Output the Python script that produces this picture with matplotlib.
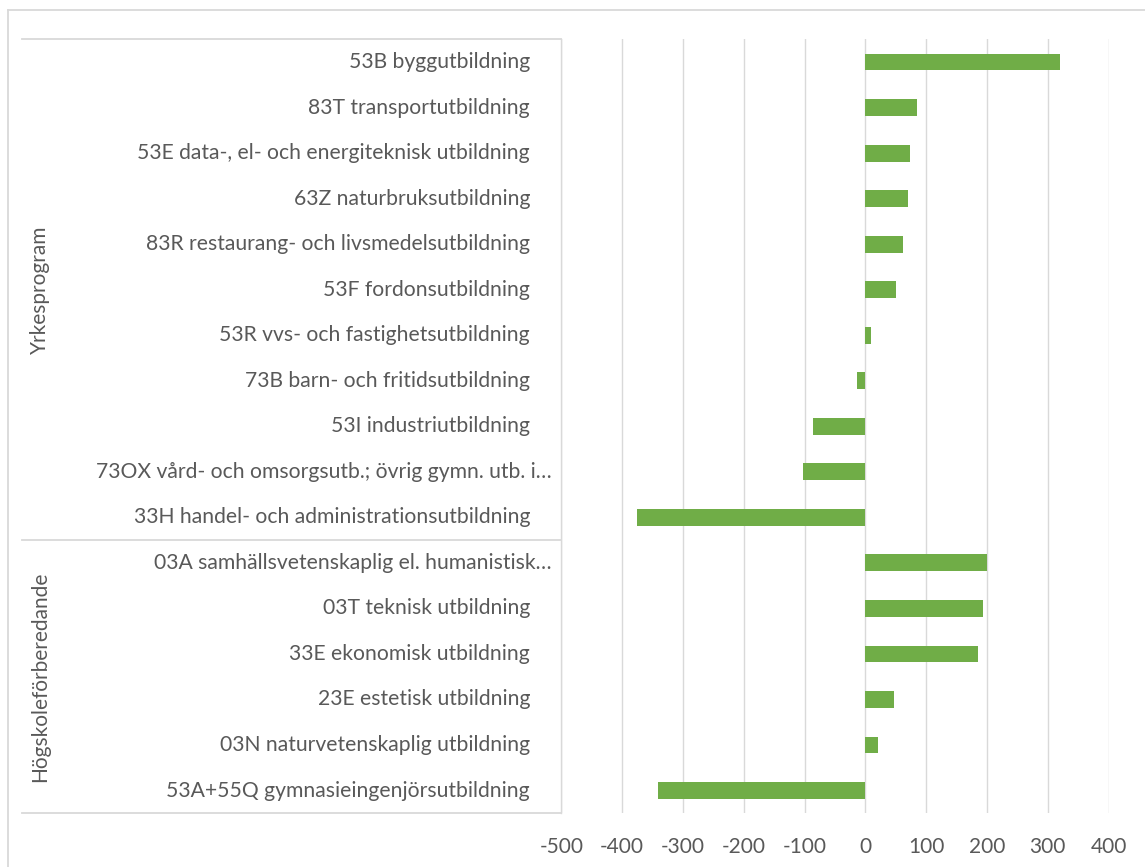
import matplotlib
matplotlib.use("Agg")
from matplotlib import pyplot as plt
from matplotlib import transforms
import numpy as np

# Category labels, top to bottom
yrke_labels = [
    "53B byggutbildning",
    "83T transportutbildning",
    "53E data-, el- och energiteknisk utbildning",
    "63Z naturbruksutbildning",
    "83R restaurang- och livsmedelsutbildning",
    "53F fordonsutbildning",
    "53R vvs- och fastighetsutbildning",
    "73B barn- och fritidsutbildning",
    "53I industriutbildning",
    "73OX vård- och omsorgsutb.; övrig gymn. utb. i…",
    "33H handel- och administrationsutbildning",
]
yrke_values = [320, 85, 74, 71, 62, 51, 9, -13, -86, -103, -375]

hogsk_labels = [
    "03A samhällsvetenskaplig el. humanistisk…",
    "03T teknisk utbildning",
    "33E ekonomisk utbildning",
    "23E estetisk utbildning",
    "03N naturvetenskaplig utbildning",
    "53A+55Q gymnasieingenjörsutbildning",
]
hogsk_values = [200, 193, 185, 48, 21, -341]

group_names = ["Yrkesprogram", "Högskoleförberedande"]
x_ticks = [-500, -400, -300, -200, -100, 0, 100, 200, 300, 400]

labels = yrke_labels + hogsk_labels
values = yrke_values + hogsk_values
n = len(labels)

plt.rcParams['font.family'] = ['Lato', 'DejaVu Sans']
text_color = '#595959'
line_color = '#D9D9D9'
bar_color = '#70AD47'
fsize = 15.2

W, H = 1145, 867
fig = plt.figure(figsize=(W / 100, H / 100), dpi=100)


def fx(px):
    return px / W


def fy(py):
    return 1 - py / H


ax_left, ax_right, ax_top, ax_bottom = 561.3, 1108.5, 39.3, 813.3
ax = fig.add_axes([fx(ax_left), fy(ax_bottom), fx(ax_right - ax_left),
                   (ax_bottom - ax_top) / H])

y = np.arange(n)
ax.barh(y, values, height=0.37, color=bar_color, zorder=3)
ax.set_xlim(-500, 400)
ax.set_ylim(n - 0.5, -0.5)

# gridlines
ax.set_xticks(x_ticks)
ax.set_xticklabels([str(v) for v in x_ticks], color=text_color, fontsize=15)
ax.xaxis.grid(True, color=line_color, linewidth=1.0, zorder=0)
ax.tick_params(axis='x', length=0, pad=17)
ax.set_yticks([])
for side in ['top', 'right', 'bottom']:
    ax.spines[side].set_visible(False)
ax.spines['left'].set_color(line_color)
ax.spines['left'].set_linewidth(1.0)

# category labels
lab_trans = transforms.blended_transform_factory(ax.transAxes, ax.transData)
for i, lab in enumerate(labels):
    off = -7 if lab.endswith('…') else -22.5
    ax.annotate(lab, xy=(0, i), xycoords=lab_trans, xytext=(off, 0),
                textcoords='offset points', ha='right', va='center',
                color=text_color, fontsize=fsize, annotation_clip=False)

# group separator lines
x0 = (21.7 - ax_left) / (ax_right - ax_left)
for yb in [-0.5, len(yrke_labels) - 0.5, n - 0.5]:
    ax.plot([x0, 0], [yb, yb], transform=lab_trans, color=line_color,
            linewidth=1.3, clip_on=False)

# group labels
group_centres = [(len(yrke_labels) - 1) / 2,
                 len(yrke_labels) + (len(hogsk_labels) - 1) / 2]
gx = (40 - ax_left) / (ax_right - ax_left)
for name, yc in zip(group_names, group_centres):
    ax.text(gx, yc, name, transform=lab_trans, rotation=90, ha='center',
            va='center', color=text_color, fontsize=15)

# chart area border (left and top visible)
fig.add_artist(plt.Line2D([fx(8), fx(8)], [fy(10), -0.1], color=line_color,
                          linewidth=1.3))
fig.add_artist(plt.Line2D([fx(8), 1.1], [fy(10), fy(10)], color=line_color,
                          linewidth=1.3))

plt.savefig('out.png', dpi=100)
